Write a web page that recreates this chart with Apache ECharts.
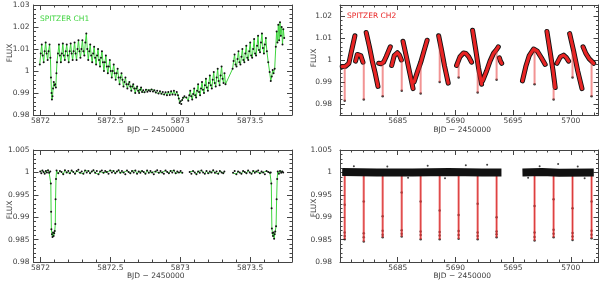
<!DOCTYPE html>
<html><head><meta charset="utf-8">
<script src="https://cdn.jsdelivr.net/npm/echarts@6/dist/echarts.min.js"></script>
<style>html,body{margin:0;padding:0;background:#fff}#c{width:600px;height:281px}</style>
</head><body><div id="c"></div>
<script>
// ---------------- tick labels ----------------
const ch1TimeTicks = [5872, 5872.5, 5873, 5873.5];
const ch2TimeTicks = [5685, 5690, 5695, 5700];
const fluxTicksTopLeft = [0.98, 0.99, 1, 1.01, 1.02, 1.03];
const fluxTicksTopRight = [0.98, 0.99, 1, 1.01, 1.02];
const fluxTicksBottom = [0.98, 0.985, 0.99, 0.995, 1, 1.005];

// ---------------- CH1 raw light curve (top-left) ----------------
const ch1Raw = [
[5871.995,1.003],[5872.002,1.008],[5872.009,1.012],[5872.016,1.007],[5872.023,1.004],[5872.030,1.009],[5872.037,1.013],[5872.044,1.008],[5872.051,1.005],[5872.058,1.009],[5872.065,1.012],[5872.071,1.006],
[5872.075,0.997],[5872.079,0.990],[5872.082,0.987],[5872.086,0.9885],[5872.090,0.992],[5872.095,0.995],[5872.100,0.9935],[5872.105,0.994],[5872.110,0.9925],[5872.114,0.999],
[5872.118,1.004],[5872.125,1.008],[5872.132,1.012],[5872.139,1.007],
[5872.146,1.004],[5872.153,1.008],[5872.160,1.0125],[5872.167,1.007],
[5872.174,1.005],[5872.181,1.009],[5872.188,1.012],[5872.195,1.007],
[5872.202,1.004],[5872.209,1.009],[5872.216,1.0125],[5872.223,1.008],
[5872.230,1.005],[5872.237,1.009],[5872.244,1.013],[5872.251,1.008],
[5872.258,1.005],[5872.265,1.010],[5872.272,1.014],[5872.279,1.009],
[5872.286,1.006],[5872.293,1.010],[5872.300,1.014],[5872.307,1.009],
[5872.314,1.007],[5872.321,1.013],[5872.328,1.017],[5872.335,1.010],
[5872.342,1.005],[5872.349,1.009],[5872.356,1.012],[5872.363,1.007],
[5872.370,1.004],[5872.377,1.008],[5872.384,1.011],[5872.391,1.006],
[5872.398,1.003],[5872.405,1.007],[5872.412,1.010],[5872.419,1.005],
[5872.426,1.002],[5872.433,1.006],[5872.440,1.009],[5872.447,1.004],
[5872.454,1.000],[5872.461,1.004],[5872.468,1.007],[5872.475,1.002],
[5872.482,0.999],[5872.489,1.002],[5872.496,1.005],[5872.503,1.000],
[5872.510,0.997],[5872.517,1.000],[5872.524,1.003],[5872.531,0.999],
[5872.538,0.996],[5872.545,0.999],[5872.552,1.001],[5872.559,0.997],
[5872.566,0.994],[5872.573,0.997],[5872.580,0.999],[5872.587,0.996],
[5872.594,0.993],[5872.601,0.995],[5872.608,0.997],[5872.615,0.994],
[5872.622,0.992],[5872.629,0.994],[5872.636,0.995],[5872.643,0.993],
[5872.650,0.991],[5872.657,0.993],[5872.664,0.994],[5872.671,0.992],
[5872.678,0.990],[5872.685,0.992],[5872.692,0.993],[5872.699,0.991],
[5872.706,0.990],[5872.713,0.9915],[5872.720,0.9925],[5872.727,0.9905],
[5872.735,0.9912],[5872.745,0.9903],[5872.755,0.9915],[5872.765,0.9906],[5872.775,0.9913],[5872.785,0.9908],[5872.795,0.9916],[5872.805,0.9907],[5872.815,0.9912],[5872.825,0.9902],[5872.835,0.9910],[5872.845,0.9898],[5872.855,0.9908],[5872.865,0.9897],[5872.875,0.9905],[5872.885,0.9893],[5872.895,0.9903],[5872.905,0.9890],[5872.915,0.9905],[5872.925,0.9891],[5872.935,0.9908],[5872.945,0.9893],[5872.955,0.9910],[5872.965,0.9892],[5872.975,0.9904],[5872.984,0.9890],
[5872.990,0.9875],[5872.996,0.9855],[5873.002,0.9862],[5873.008,0.9850],[5873.014,0.9868],[5873.020,0.9878],[5873.030,0.9885],[5873.044,0.9880],
[5873.058,0.9865],[5873.065,0.9890],[5873.072,0.9910],[5873.079,0.9885],
[5873.086,0.9870],[5873.093,0.9895],[5873.100,0.9920],[5873.107,0.9890],
[5873.114,0.9880],[5873.121,0.9910],[5873.128,0.9940],[5873.135,0.9905],
[5873.142,0.9890],[5873.149,0.9920],[5873.156,0.9950],[5873.163,0.9915],
[5873.170,0.9900],[5873.177,0.9935],[5873.184,0.9965],[5873.191,0.9925],
[5873.198,0.9910],[5873.205,0.9945],[5873.212,0.9980],[5873.219,0.9935],
[5873.226,0.9920],[5873.233,0.9960],[5873.240,0.9995],[5873.247,0.9945],
[5873.254,0.9930],[5873.261,0.9970],[5873.268,1.0010],[5873.275,0.9955],
[5873.282,0.9935],[5873.289,0.9980],[5873.296,1.0020],[5873.303,0.9965],
[5873.310,0.9945],[5873.317,0.9990],[5873.324,0.9940],
[5873.375,1.0010],[5873.382,1.0045],[5873.389,1.0075],[5873.396,1.0030],
[5873.403,1.0020],[5873.410,1.0055],[5873.417,1.0090],[5873.424,1.0040],
[5873.431,1.0030],[5873.438,1.0065],[5873.445,1.0100],[5873.452,1.0050],
[5873.459,1.0040],[5873.466,1.0080],[5873.473,1.0115],[5873.480,1.0060],
[5873.487,1.0050],[5873.494,1.0090],[5873.501,1.0130],[5873.508,1.0070],
[5873.515,1.0060],[5873.522,1.0100],[5873.529,1.0145],[5873.536,1.0080],
[5873.543,1.0070],[5873.550,1.0115],[5873.557,1.0160],[5873.564,1.0095],
[5873.571,1.0085],[5873.578,1.0130],[5873.585,1.0170],[5873.592,1.0105],
[5873.599,1.0080],[5873.606,1.0120],[5873.613,1.0150],[5873.620,1.0090],
[5873.630,1.0040],[5873.640,0.9995],[5873.648,0.9955],[5873.655,0.9975],[5873.662,1.0005],[5873.668,0.9990],[5873.676,1.0010],
[5873.684,1.0110],[5873.690,1.0180],[5873.696,1.0130],[5873.702,1.0210],[5873.708,1.0140],[5873.714,1.0222],[5873.720,1.0160],[5873.726,1.0200],[5873.732,1.0120],[5873.738,1.0190],[5873.744,1.0150]
];

// ---------------- CH2 raw light curve (top-right) ----------------
const ch2RawSegments = [
[[5680.19,0.9970],[5680.35,0.9975],[5680.50,0.9972],[5680.65,0.9978],[5680.77,0.9985],[5680.95,1.0030],[5681.12,1.0070],[5681.29,1.0110]],
[[5681.35,0.9995],[5681.50,1.0025],[5681.64,1.0032],[5681.80,1.0020],[5681.99,0.9990]],
[[5682.27,1.0125],[5682.55,1.0060],[5682.80,0.9995],[5683.05,0.9940],[5683.29,0.9880]],
[[5683.35,0.9985],[5683.55,0.9983],[5683.78,0.9990],[5684.00,1.0015],[5684.20,1.0040],[5684.36,1.0060]],
[[5684.48,0.9975],[5684.70,1.0020],[5684.97,1.0033],[5685.15,1.0022],[5685.32,1.0000]],
[[5685.46,1.0085],[5685.75,1.0015],[5686.05,0.9940],[5686.33,0.9870]],
[[5686.42,0.9900],[5686.70,0.9945],[5687.00,0.9990],[5687.30,1.0045],[5687.55,1.0090]],
[[5688.55,1.0110],[5688.80,1.0045],[5689.05,0.9975],[5689.38,0.9895]],
[[5690.10,0.9975],[5690.40,1.0015],[5690.70,1.0032],[5690.90,1.0030],[5691.15,1.0015],[5691.40,0.9990]],
[[5691.49,1.0135],[5691.75,1.0050],[5692.00,0.9965],[5692.27,0.9890]],
[[5692.36,0.9905],[5692.70,0.9950],[5693.00,0.9995],[5693.30,1.0030],[5693.60,1.0050],[5693.72,1.0060]],
[[5693.81,1.0010],[5693.90,0.9995],[5694.01,0.9985]],
[[5695.81,0.9905],[5696.10,0.9970],[5696.40,1.0020],[5696.77,1.0050],[5697.10,1.0040],[5697.45,1.0010],[5697.78,0.9980]],
[[5697.93,1.0130],[5698.20,1.0040],[5698.45,0.9955],[5698.65,0.9875]],
[[5698.80,0.9985],[5699.10,1.0015],[5699.38,1.0022],[5699.60,1.0012],[5699.81,0.9995]],
[[5699.90,1.0120],[5700.25,1.0040],[5700.60,0.9950],[5700.97,0.9870]],
[[5701.06,1.0060],[5701.30,1.0030],[5701.60,1.0005],[5701.99,0.9985]]
];
// eclipse spikes: [time, flux at top, flux at bottom]
const ch2RawDips = [
[5680.41,0.9972,0.9815],[5682.06,0.9990,0.9820],[5683.70,0.9984,0.9835],[5685.35,1.0000,0.9860],
[5686.99,0.9990,0.9848],[5688.64,1.0080,0.9900],[5690.28,0.9990,0.9920],[5691.93,0.9960,0.9852],
[5693.57,1.0050,0.9910],[5696.86,1.0050,0.9890],[5698.51,0.9900,0.9820],[5700.15,1.0040,0.9920],[5701.80,1.0000,0.9835]
];

// ---------------- CH1 corrected (bottom-left) ----------------
const ch1CorrSegments = [
[[5871.998,1.0002],[5872.006,0.9998],[5872.014,1.0004],[5872.022,1.0001],[5872.030,0.9997],[5872.038,1.0003],[5872.046,1.0000],[5872.054,1.0005],[5872.062,0.9999],[5872.070,1.0002],
 [5872.074,0.9975],[5872.076,0.9912],[5872.078,0.9873],[5872.082,0.9862],[5872.086,0.9856],[5872.090,0.9866],[5872.094,0.9858],[5872.098,0.9864],[5872.102,0.9869],[5872.106,0.9885],[5872.108,0.9940],[5872.111,0.9985],
 [5872.115,1.0004],[5872.127,0.9998],[5872.139,1.0003],[5872.151,1.0001],[5872.163,0.9996],[5872.175,1.0005],[5872.187,1.0000],[5872.199,1.0003],[5872.211,0.9998],[5872.223,1.0004],[5872.235,1.0001],[5872.247,0.9997],[5872.259,1.0003],[5872.271,1.0006],[5872.283,0.9999],[5872.295,1.0002],[5872.307,0.9997],[5872.319,1.0004],[5872.331,1.0000],[5872.343,1.0003],[5872.355,0.9998],[5872.367,1.0002],[5872.379,1.0005],[5872.391,0.9999],[5872.403,1.0003],[5872.415,0.9996],[5872.427,1.0002],[5872.439,1.0004],[5872.451,0.9999],[5872.463,1.0003],[5872.475,1.0001],[5872.487,0.9997],[5872.499,1.0004],[5872.511,1.0000],[5872.523,1.0003],[5872.535,0.9998],[5872.547,1.0002],[5872.559,1.0005],[5872.571,0.9999],[5872.583,1.0003],[5872.595,1.0000],[5872.607,0.9996],[5872.619,1.0004],[5872.631,1.0001],[5872.643,0.9998],[5872.655,1.0003],[5872.667,1.0000],[5872.679,1.0004],[5872.691,0.9997],[5872.703,1.0002],[5872.715,0.9999],[5872.727,1.0003],[5872.739,1.0001],[5872.751,0.9997],[5872.763,1.0004],[5872.775,0.9999],[5872.787,1.0003],[5872.799,1.0000],[5872.811,0.9996],[5872.823,1.0002],[5872.835,1.0005],[5872.847,0.9999],[5872.859,1.0003],[5872.871,1.0000],[5872.883,0.9997],[5872.895,1.0004],[5872.907,1.0001],[5872.919,0.9998],[5872.931,1.0003],[5872.943,1.0000],[5872.955,1.0004],[5872.967,0.9998],[5872.979,1.0002],[5872.991,1.0000],[5873.003,1.0003],[5873.015,0.9999]],
[[5873.068,1.0001],[5873.080,0.9997],[5873.092,1.0003],[5873.104,1.0000],[5873.116,0.9996],[5873.128,1.0002],[5873.140,0.9999],[5873.152,1.0004],[5873.164,1.0000],[5873.176,0.9997],[5873.188,1.0003],[5873.200,0.9998],[5873.212,1.0002],[5873.224,1.0000],[5873.236,1.0005],[5873.248,0.9999],[5873.260,1.0002],[5873.272,0.9997],[5873.284,1.0003],[5873.296,1.0000],[5873.308,0.9998],[5873.316,1.0002]],
[[5873.378,0.9999],[5873.390,1.0003],[5873.402,0.9996],[5873.414,1.0002],[5873.426,1.0000],[5873.438,0.9997],[5873.450,1.0003],[5873.462,1.0001],[5873.474,0.9998],[5873.486,1.0004],[5873.498,1.0000],[5873.510,0.9997],[5873.522,1.0003],[5873.534,0.9999],[5873.546,1.0002],[5873.558,1.0004],[5873.570,0.9998],[5873.582,1.0002],[5873.594,1.0000],[5873.606,0.9996],[5873.618,1.0003],[5873.630,1.0001],[5873.642,0.9999],[5873.648,1.0000],
 [5873.652,0.9975],[5873.654,0.9920],[5873.656,0.9875],[5873.660,0.9865],[5873.664,0.9858],[5873.668,0.9866],[5873.672,0.9852],[5873.676,0.9862],[5873.680,0.9868],[5873.686,0.9880],[5873.690,0.9940],[5873.694,0.9985],
 [5873.698,1.0002],[5873.706,0.9997],[5873.714,1.0003],[5873.722,0.9999],[5873.730,1.0002],[5873.737,1.0000]]
];

// ---------------- CH2 corrected (bottom-right) ----------------
const ch2CorrSegments = [
[[5680.19,1.0001],[5683.20,1.0000],[5686.30,1.0000],[5689.40,1.0001],[5692.30,1.0000],[5693.99,1.0000]],
[[5695.81,1.0000],[5697.50,1.0001],[5699.00,0.9999],[5701.99,1.0000]]
];
const ch2CorrOutliers = [[5681.2,1.0014],[5684.1,1.0013],[5687.6,1.0015],[5690.9,1.0016],[5692.75,1.0017],[5697.3,1.0014],[5698.9,1.0019],[5700.6,1.0013],[5685.9,0.9988],[5689.1,0.9987],[5696.3,0.9988],[5701.2,0.9987]];
// eclipse spikes: [time, bottom flux]
const ch2CorrDips = [[5680.41,0.9851],[5682.06,0.9846],[5683.70,0.9855],[5685.35,0.9857],[5686.99,0.9851],[5688.64,0.9851],[5690.28,0.9852],[5691.93,0.9851],[5693.57,0.9855],[5696.86,0.9848],[5698.51,0.9855],[5700.15,0.9849],[5701.80,0.9853]];
const ch2CorrDipDots = [
[5680.41,0.9851],[5680.41,0.9858],[5680.41,0.9866],[5680.41,0.9928],
[5682.06,0.9846],[5682.06,0.9855],[5682.06,0.9864],[5682.06,0.9935],
[5683.70,0.9855],[5683.70,0.9861],[5683.70,0.9870],[5683.70,0.9902],
[5685.35,0.9857],[5685.35,0.9863],[5685.35,0.9871],[5685.35,0.9955],
[5686.99,0.9851],[5686.99,0.9860],[5686.99,0.9868],[5686.99,0.9935],
[5688.64,0.9851],[5688.64,0.9859],[5688.64,0.9867],[5688.64,0.9915],
[5690.28,0.9852],[5690.28,0.9860],[5690.28,0.9869],[5690.28,0.9905],
[5691.93,0.9851],[5691.93,0.9858],[5691.93,0.9866],[5691.93,0.9930],
[5693.57,0.9855],[5693.57,0.9862],[5693.57,0.9868],[5693.57,0.9900],
[5696.86,0.9848],[5696.86,0.9856],[5696.86,0.9866],[5696.86,0.9925],
[5698.51,0.9855],[5698.51,0.9863],[5698.51,0.9872],[5698.51,0.9940],
[5700.15,0.9849],[5700.15,0.9857],[5700.15,0.9865],[5700.15,0.9920],
[5701.80,0.9853],[5701.80,0.9861],[5701.80,0.9870],[5701.80,0.9935]
];

// ---------------- helpers ----------------
const FONT = 'DejaVu Sans';
const FS = 7.5;
const TXT = '#3c3c3c';
const AX = '#444';
function joinSegs(segs){ const out=[]; segs.forEach((s,i)=>{ if(i) out.push(null); s.forEach(p=>out.push(p)); }); return out; }
function minorTicks(min,max,step){ const a=[]; const n0=Math.ceil(min/step-1e-6), n1=Math.floor(max/step+1e-6); for(let n=n0;n<=n1;n++) a.push(+(n*step).toFixed(6)); return a; }
const fmt = v => String(+(+v).toFixed(4));

function makeX(grid,min,max,major,step,nameGap){
  const common={type:'value',gridIndex:grid,min,max,scale:true,splitLine:{show:false},axisPointer:{show:false},
    axisLine:{show:true,onZero:false,lineStyle:{color:AX,width:1}},axisLabel:{show:false}};
  const tickMaj={show:true,inside:true,length:5,lineStyle:{color:AX,width:1},customValues:major};
  const tickMin={show:true,inside:true,length:2.5,lineStyle:{color:AX,width:1},customValues:minorTicks(min,max,step)};
  return [
    Object.assign({},common,{position:'bottom',axisTick:tickMaj,
      axisLabel:{show:true,customValues:major,formatter:fmt,fontFamily:FONT,fontSize:FS,color:TXT,margin:2.5},
      name:'BJD \u2212 2450000',nameLocation:'middle',nameGap:nameGap,nameMoveOverlap:false,
      nameTextStyle:{fontFamily:FONT,fontSize:FS,color:TXT,padding:[0,14,0,0]}}),
    Object.assign({},common,{position:'bottom',axisLine:{show:false},axisTick:tickMin}),
    Object.assign({},common,{position:'top',axisTick:tickMaj}),
    Object.assign({},common,{position:'top',axisLine:{show:false},axisTick:tickMin})
  ];
}
function makeY(grid,min,max,major,step,margin,nameGap,namePad){
  const common={type:'value',gridIndex:grid,min,max,scale:true,splitLine:{show:false},axisPointer:{show:false},
    axisLine:{show:true,onZero:false,lineStyle:{color:AX,width:1}},axisLabel:{show:false}};
  const tickMaj={show:true,inside:true,length:5,lineStyle:{color:AX,width:1},customValues:major};
  const tickMin={show:true,inside:true,length:2.5,lineStyle:{color:AX,width:1},customValues:minorTicks(min,max,step)};
  return [
    Object.assign({},common,{position:'left',axisTick:tickMaj,
      axisLabel:{show:true,customValues:major,formatter:fmt,fontFamily:FONT,fontSize:FS,color:TXT,margin:margin},
      name:'FLUX',nameLocation:'middle',nameGap:nameGap,nameRotate:90,nameMoveOverlap:false,
      nameTextStyle:{fontFamily:FONT,fontSize:FS,color:TXT,padding:namePad}}),
    Object.assign({},common,{position:'left',axisLine:{show:false},axisTick:tickMin}),
    Object.assign({},common,{position:'right',axisTick:tickMaj}),
    Object.assign({},common,{position:'right',axisLine:{show:false},axisTick:tickMin})
  ];
}

const grids=[
  {left:33.5,top:5,width:258.5,height:110},
  {left:340,top:5,width:258.5,height:110},
  {left:33.5,top:150,width:258.5,height:112},
  {left:340,top:150,width:258.5,height:112}
].map(g=>Object.assign(g,{containLabel:false,outerBoundsMode:'none'}));

const xAxis=[].concat(
  makeX(0,5871.95,5873.8,ch1TimeTicks,0.1,11),
  makeX(1,5680,5702.4,ch2TimeTicks,1,11),
  makeX(2,5871.95,5873.8,ch1TimeTicks,0.1,10.5),
  makeX(3,5680,5702.4,ch2TimeTicks,1,10.5));
const yAxis=[].concat(
  makeY(0,0.98,1.03,fluxTicksTopLeft,0.002,4,19.5,[0,0,0,14]),
  makeY(1,0.975,1.025,fluxTicksTopRight,0.002,8,21.5,[0,0,0,4]),
  makeY(2,0.98,1.005,fluxTicksBottom,0.001,4,19.5,[0,8,0,0]),
  makeY(3,0.98,1.005,fluxTicksBottom,0.001,8,21.5,[0,4,0,0]));

const GREEN='#3fd43f', RED='#e82424';
function dipLines(rows){ const out=[]; rows.forEach((r,i)=>{ if(i) out.push(null); out.push([r[0],r[1]]); out.push([r[0],r[2]]); }); return out; }
function dipBottoms(rows){ return rows.map(r=>[r[0],r[r.length-1]]); }
function corrDipLines(rows){ const out=[]; rows.forEach((r,i)=>{ if(i) out.push(null); out.push([r[0],1.0]); out.push([r[0],r[1]]); }); return out; }

const series=[
  // top-left
  {type:'line',xAxisIndex:0,yAxisIndex:0,data:ch1Raw,showSymbol:true,showAllSymbol:true,symbol:'circle',symbolSize:2,
   lineStyle:{color:GREEN,width:1},itemStyle:{color:'#111'},silent:true},
  // top-right band
  {type:'line',xAxisIndex:4,yAxisIndex:4,data:joinSegs(ch2RawSegments),showSymbol:false,lineStyle:{color:'#111',width:5,cap:'round',join:'round'},silent:true},
  {type:'line',xAxisIndex:4,yAxisIndex:4,data:dipLines(ch2RawDips),showSymbol:false,lineStyle:{color:'rgba(232,60,60,0.55)',width:2},silent:true},
  {type:'line',xAxisIndex:4,yAxisIndex:4,data:joinSegs(ch2RawSegments),showSymbol:false,lineStyle:{color:RED,width:3.2,cap:'round',join:'round'},silent:true},
  {type:'scatter',xAxisIndex:4,yAxisIndex:4,data:dipBottoms(ch2RawDips),symbolSize:2.5,itemStyle:{color:'#111'},silent:true},
  // bottom-left
  {type:'line',xAxisIndex:8,yAxisIndex:8,data:joinSegs(ch1CorrSegments),connectNulls:false,showSymbol:true,showAllSymbol:true,symbol:'circle',symbolSize:2,
   lineStyle:{color:GREEN,width:1},itemStyle:{color:'#111'},silent:true},
  // bottom-right
  {type:'line',xAxisIndex:12,yAxisIndex:12,data:corrDipLines(ch2CorrDips),showSymbol:false,lineStyle:{color:'rgba(235,90,90,0.6)',width:2.5},silent:true},
  {type:'line',xAxisIndex:12,yAxisIndex:12,data:corrDipLines(ch2CorrDips),showSymbol:false,lineStyle:{color:'#d42020',width:0.8},silent:true},
  {type:'line',xAxisIndex:12,yAxisIndex:12,data:joinSegs(ch2CorrSegments),showSymbol:false,lineStyle:{color:'#111',width:8,cap:'butt'},silent:true},
  {type:'scatter',xAxisIndex:12,yAxisIndex:12,data:ch2CorrOutliers,symbolSize:2,itemStyle:{color:'#111'},silent:true},
  {type:'scatter',xAxisIndex:12,yAxisIndex:12,data:ch2CorrDipDots,symbolSize:2.5,itemStyle:{color:'#111'},silent:true}
];

const chart=echarts.init(document.getElementById('c'),null,{renderer:'canvas'});
chart.setOption({
  animation:false,
  backgroundColor:'#fff',
  grid:grids, xAxis, yAxis, series,
  graphic:[
    {type:'text',left:40,top:15,style:{text:'SPITZER CH1',fill:GREEN,font:'7.5px "DejaVu Sans"'}},
    {type:'text',left:347,top:12.5,style:{text:'SPITZER CH2',fill:RED,font:'7.5px "DejaVu Sans"'}}
  ]
});
</script></body></html>
